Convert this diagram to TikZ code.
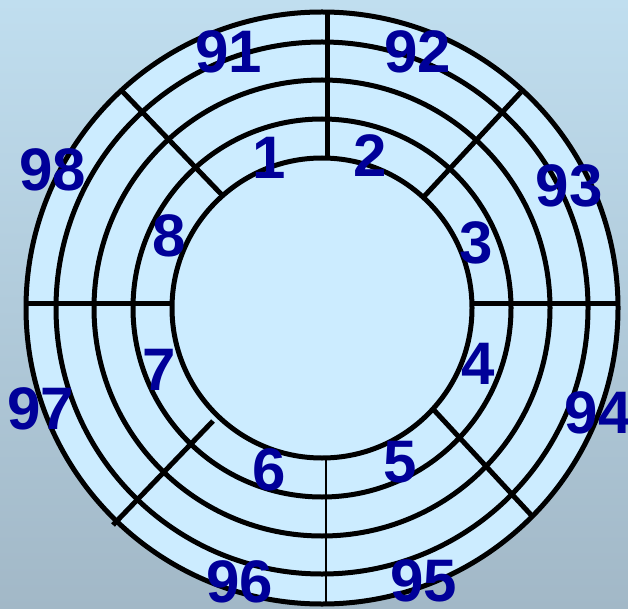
\documentclass[tikz,border=0pt]{standalone}
\usepackage{fontspec}
\setmainfont{Liberation Sans}
\definecolor{bgtop}{RGB}{192,222,239}
\definecolor{bgbot}{RGB}{162,184,199}
\definecolor{disk}{RGB}{204,236,255}
\definecolor{lab}{RGB}{0,0,153}
\tikzset{
  ring/.style={line width=5pt, draw=black},
  sector/.style={line width=5pt, draw=black},
  thinsector/.style={line width=2pt, draw=black},
  num/.style={text=lab, inner sep=0pt, font=\fontsize{60}{60}\selectfont\bfseries}
}
\begin{document}
\begin{tikzpicture}[x=1pt,y=-1pt]
\shade[top color=bgtop, bottom color=bgbot] (0,0) rectangle (628,609);
\useasboundingbox (0,0) rectangle (628,609);
\coordinate (c) at (322,308);
\fill[disk] (c) circle[radius=296];
\foreach \r in {296,266,228,189,150} \draw[ring] (c) circle[radius=\r];
% sector lines
\coordinate (wA) at (26,303);  \coordinate (wB) at (172,303);
\coordinate (eA) at (473,303); \coordinate (eB) at (618,303);
\coordinate (nA) at (327.5,13); \coordinate (nB) at (327.5,159);
\coordinate (sA) at (326,458); \coordinate (sB) at (326,605);
\coordinate (nwA) at (122,91); \coordinate (nwB) at (222,195);
\coordinate (neA) at (521,92); \coordinate (neB) at (424.5,196);
\coordinate (seA) at (433,409); \coordinate (seB) at (533,517);
\coordinate (swA) at (213,421); \coordinate (swB) at (113,525);
\draw[sector] (wA) -- (wB);
\draw[sector] (eA) -- (eB);
\draw[sector] (nA) -- (nB);
\draw[thinsector] (sA) -- (sB);
\draw[sector] (nwA) -- (nwB);
\draw[sector] (neA) -- (neB);
\draw[sector] (seA) -- (seB);
\draw[sector] (swA) -- (swB);
% labels
\node[num] (l1) at (269,158) {1};
\node[num] (l2) at (370,156) {2};
\node[num] (l3) at (476,243) {3};
\node[num] (l4) at (478,364) {4};
\node[num] (l5) at (400,462) {5};
\node[num] (l6) at (269,470) {6};
\node[num] (l7) at (159,370) {7};
\node[num] (l8) at (169,236) {8};
\node[num] (l91) at (229,52) {91};
\node[num] (l92) at (418,52) {92};
\node[num] (l93) at (569,186) {93};
\node[num] (l94) at (598,413) {94};
\node[num] (l95) at (424,581) {95};
\node[num] (l96) at (240,582) {96};
\node[num] (l97) at (41,409) {97};
\node[num] (l98) at (53,170) {98};
\end{tikzpicture}
\end{document}
